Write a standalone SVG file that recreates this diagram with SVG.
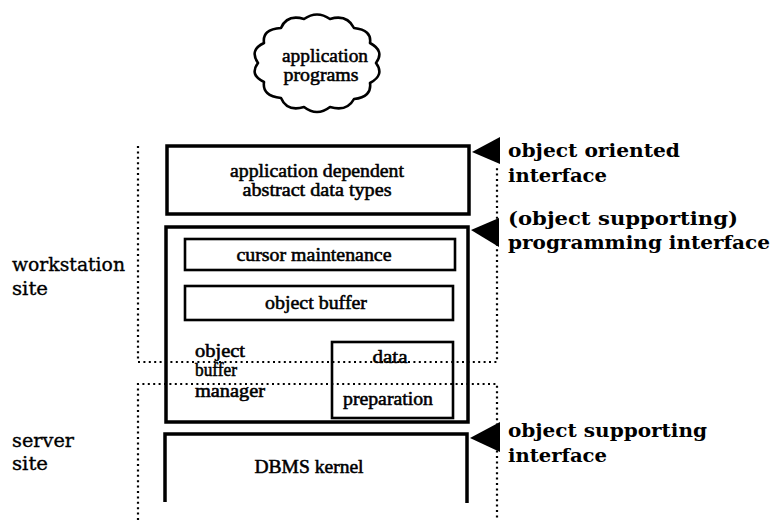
<svg xmlns="http://www.w3.org/2000/svg" width="774" height="527" viewBox="0 0 774 527">
  <style>
    .box { fill: none; stroke: #000; stroke-width: 3.5; stroke-linejoin: miter; }
    .inner { fill: none; stroke: #000; stroke-width: 2.6; }
    .dot { fill: none; stroke: #000; stroke-width: 2.2; stroke-dasharray: 2 3.4; }
    .lbl { font-family: "Liberation Serif", "Times New Roman", serif; font-size: 19px; fill: #000; stroke: #000; stroke-width: 0.55; text-anchor: middle; }
    .lbl-l { font-family: "Liberation Serif", "Times New Roman", serif; font-size: 18px; fill: #000; stroke: #000; stroke-width: 0.55; }
    .site { font-family: "DejaVu Serif", "Liberation Serif", serif; font-size: 19px; fill: #000; stroke: #000; stroke-width: 0.35; }
    .iface { font-family: "DejaVu Serif", "Liberation Serif", serif; font-size: 19px; font-weight: bold; fill: #000; }
    .tri { fill: #000; }
  </style>

  <!-- cloud of client programs -->
  <g id="application-programs">
    <path class="inner" stroke-width="3" stroke-linejoin="round" d="M376,63 Q385,75 370,83 Q372,97 354,99 Q347,112 330,107 Q317,117 304,107 Q287,112 281,98 Q262,96 264,82 Q249,75 258,63 Q249,50 264,43 Q262,29 281,28 Q287,14 304,19 Q317,10 330,19 Q347,14 354,28 Q372,30 370,43 Q385,51 376,63 Z"/>
    <text class="lbl" x="325" y="62" font-size="17" textLength="86" lengthAdjust="spacingAndGlyphs">application</text>
    <text class="lbl" x="321" y="81" font-size="17" textLength="75" lengthAdjust="spacingAndGlyphs">programs</text>
  </g>

  <!-- site boundaries (dotted) -->
  <g id="site-boundaries">
    <path class="dot" d="M138,146 V362 H497 V166"/>
    <path class="dot" d="M138,520 V384 H497 V520"/>
  </g>

  <!-- layer: application dependent ADTs -->
  <g id="adt-layer">
    <rect class="box" x="167" y="146" width="302" height="68"/>
    <text class="lbl" x="317" y="177" font-size="17" textLength="174" lengthAdjust="spacingAndGlyphs">application dependent</text>
    <text class="lbl" x="317" y="196" font-size="17" textLength="149" lengthAdjust="spacingAndGlyphs">abstract data types</text>
  </g>

  <!-- layer: object buffer manager -->
  <g id="object-buffer-manager">
    <rect class="box" x="166" y="227" width="302" height="195"/>
    <text class="lbl-l" x="195" y="357" textLength="50" lengthAdjust="spacingAndGlyphs">object</text>
    <text class="lbl-l" x="195" y="376" textLength="42" lengthAdjust="spacingAndGlyphs">buffer</text>
    <text class="lbl-l" x="195" y="397" textLength="70" lengthAdjust="spacingAndGlyphs">manager</text>
  </g>

  <g id="cursor-maintenance">
    <rect class="inner" x="185" y="239" width="270" height="31"/>
    <text class="lbl" x="314" y="261" textLength="155" lengthAdjust="spacingAndGlyphs">cursor maintenance</text>
  </g>

  <g id="object-buffer">
    <rect class="inner" x="185" y="286" width="268" height="34"/>
    <text class="lbl" x="316" y="309" textLength="102" lengthAdjust="spacingAndGlyphs">object buffer</text>
  </g>

  <g id="data-preparation">
    <rect class="inner" x="332" y="342" width="121" height="76"/>
    <text class="lbl" x="390" y="363" textLength="35" lengthAdjust="spacingAndGlyphs">data</text>
    <text class="lbl" x="388" y="405" textLength="90" lengthAdjust="spacingAndGlyphs">preparation</text>
  </g>

  <!-- layer: DBMS kernel (open at the bottom) -->
  <g id="dbms-kernel">
    <path class="box" d="M165,502 V434 H467 V503"/>
    <text class="lbl" x="309" y="473" textLength="109" lengthAdjust="spacingAndGlyphs">DBMS kernel</text>
  </g>

  <!-- interface markers -->
  <g id="connectors">
    <polygon class="tri" points="472,152 500,137 500,164"/>
    <polygon class="tri" points="471,230 499,218 499,247"/>
    <polygon class="tri" points="470,438 500,422 500,452"/>
  </g>

  <!-- site labels -->
  <g id="site-labels">
    <text class="site" x="12" y="271" textLength="113" lengthAdjust="spacingAndGlyphs">workstation</text>
    <text class="site" x="12" y="295" textLength="36" lengthAdjust="spacingAndGlyphs">site</text>
    <text class="site" x="12" y="447" textLength="62" lengthAdjust="spacingAndGlyphs">server</text>
    <text class="site" x="12" y="470" textLength="36" lengthAdjust="spacingAndGlyphs">site</text>
  </g>

  <!-- interface labels -->
  <g id="interface-labels">
    <text class="iface" x="508" y="157" textLength="172" lengthAdjust="spacingAndGlyphs">object  oriented</text>
    <text class="iface" x="508" y="182" textLength="99" lengthAdjust="spacingAndGlyphs">interface</text>
    <text class="iface" x="508" y="225" textLength="230" lengthAdjust="spacingAndGlyphs">(object  supporting)</text>
    <text class="iface" x="508" y="249" textLength="262" lengthAdjust="spacingAndGlyphs">programming  interface</text>
    <text class="iface" x="508" y="437" textLength="199" lengthAdjust="spacingAndGlyphs">object  supporting</text>
    <text class="iface" x="508" y="462" textLength="99" lengthAdjust="spacingAndGlyphs">interface</text>
  </g>
</svg>
